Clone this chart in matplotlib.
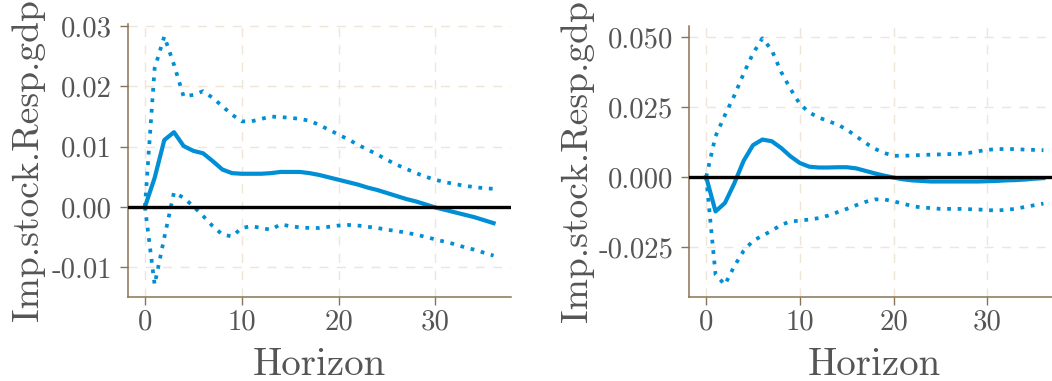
import matplotlib
matplotlib.use("Agg")
import matplotlib.pyplot as plt
from matplotlib.ticker import FixedLocator, FixedFormatter

plt.rcParams['font.family'] = ['cmr10', 'DejaVu Serif']
plt.rcParams['axes.unicode_minus'] = False

horizon = list(range(0, 37))

# Left panel
left_irf = [0.0, 0.0048, 0.0111, 0.0124, 0.0101, 0.0093, 0.0089, 0.0076, 0.0062, 0.0056,
            0.0055, 0.0055, 0.0055, 0.0056, 0.0058, 0.0058, 0.0058, 0.0056, 0.0053, 0.0049,
            0.0045, 0.0041, 0.0037, 0.0032, 0.0028, 0.0023, 0.0018, 0.0013, 0.0009, 0.0004,
            -0.0001, -0.0005, -0.0009, -0.0013, -0.0017, -0.0022, -0.0027]
left_upper = [0.0, 0.0230, 0.0283, 0.0236, 0.0183, 0.0186, 0.0192, 0.0181, 0.0167, 0.0153,
              0.0142, 0.0142, 0.0146, 0.0150, 0.0149, 0.0148, 0.0146, 0.0143, 0.0136, 0.0128,
              0.0120, 0.0112, 0.0103, 0.0095, 0.0087, 0.0078, 0.0070, 0.0063, 0.0056, 0.0050,
              0.0045, 0.0041, 0.0038, 0.0035, 0.0033, 0.0031, 0.0030]
left_lower = [0.0, -0.0129, -0.0051, 0.0024, 0.0015, 0.0001, -0.0015, -0.0032, -0.0046, -0.0049,
              -0.0035, -0.0032, -0.0035, -0.0038, -0.0029, -0.0032, -0.0034, -0.0035, -0.0035, -0.0033,
              -0.0031, -0.0030, -0.0031, -0.0033, -0.0035, -0.0038, -0.0040, -0.0043, -0.0046, -0.0050,
              -0.0054, -0.0058, -0.0062, -0.0067, -0.0071, -0.0076, -0.0081]

# Right panel
right_irf = [0.0, -0.0123, -0.0093, -0.0023, 0.0058, 0.0114, 0.0134, 0.0128, 0.0104, 0.0074,
             0.0050, 0.0037, 0.0034, 0.0034, 0.0035, 0.0035, 0.0031, 0.0022, 0.0013, 0.0005,
             -0.0002, -0.0008, -0.0012, -0.0014, -0.0016, -0.0016, -0.0016, -0.0016, -0.0016, -0.0016,
             -0.0015, -0.0014, -0.0012, -0.0011, -0.0009, -0.0006, -0.0004]
right_upper = [0.0, 0.0146, 0.0221, 0.0291, 0.0370, 0.0442, 0.0496, 0.0454, 0.0376, 0.0315,
               0.0261, 0.0231, 0.0213, 0.0200, 0.0188, 0.0170, 0.0146, 0.0122, 0.0101, 0.0086,
               0.0076, 0.0076, 0.0077, 0.0079, 0.0080, 0.0081, 0.0082, 0.0083, 0.0086, 0.0092,
               0.0097, 0.0100, 0.0100, 0.0100, 0.0098, 0.0097, 0.0096]
right_lower = [0.0, -0.0349, -0.0385, -0.0319, -0.0264, -0.0228, -0.0210, -0.0192, -0.0171, -0.0159,
               -0.0156, -0.0152, -0.0147, -0.0138, -0.0126, -0.0114, -0.0101, -0.0089, -0.0080, -0.0080,
               -0.0087, -0.0095, -0.0104, -0.0109, -0.0111, -0.0114, -0.0114, -0.0114, -0.0115, -0.0116,
               -0.0118, -0.0120, -0.0117, -0.0114, -0.0107, -0.0101, -0.0095]

x_ticks = [0, 10, 20, 30]
x_tick_labels = ["0", "10", "20", "30"]
left_y_ticks = [-0.01, 0.0, 0.01, 0.02, 0.03]
left_y_labels = ["-0.01", "0.00", "0.01", "0.02", "0.03"]
right_y_ticks = [-0.025, 0.0, 0.025, 0.05]
right_y_labels = ["-0.025", "0.000", "0.025", "0.050"]

ylabel_text = "Imp.stock.Resp.gdp"
xlabel_text = "Horizon"

BLUE = "#008fd5"
SPINE = "#8b7355"
GRID = "#efe5d9"
TEXT = "#555555"

W, H = 1052, 381
fig = plt.figure(figsize=(W / 100, H / 100), dpi=100)

ax1 = fig.add_axes([127.5 / W, 84 / H, 383.5 / W, 273 / H])
ax2 = fig.add_axes([689.3 / W, 84 / H, 371 / W, 271 / H])

panels = [
    (ax1, left_irf, left_upper, left_lower, left_y_ticks, left_y_labels, -0.215),
    (ax2, right_irf, right_upper, right_lower, right_y_ticks, right_y_labels, -0.258),
]

for ax, irf, up, lo, yt, yl, ylx in panels:
    ax.plot(horizon, up, color=BLUE, lw=2.7, linestyle=(0, (1.0, 1.8)), dash_capstyle='butt')
    ax.plot(horizon, lo, color=BLUE, lw=2.7, linestyle=(0, (1.0, 1.8)), dash_capstyle='butt')
    ax.plot(horizon, irf, color=BLUE, lw=3.0, solid_joinstyle='round')
    ax.axhline(0, color='black', lw=2.4, zorder=3)
    ax.margins(x=0.05, y=0.05)

    ax.xaxis.set_major_locator(FixedLocator(x_ticks))
    ax.xaxis.set_major_formatter(FixedFormatter(x_tick_labels))
    ax.yaxis.set_major_locator(FixedLocator(yt))
    ax.yaxis.set_major_formatter(FixedFormatter(yl))

    ax.grid(True, color=GRID, lw=1.0, linestyle=(0, (6.5, 6.0)))
    ax.set_axisbelow(True)
    for s in ['top', 'right']:
        ax.spines[s].set_visible(False)
    for s in ['left', 'bottom']:
        ax.spines[s].set_color(SPINE)
        ax.spines[s].set_linewidth(1.1)
    ax.tick_params(axis='both', direction='out', length=5.8, width=1.0, color=SPINE,
                   labelsize=20.7, labelcolor=TEXT)
    ax.tick_params(axis='y', pad=5.5)
    ax.tick_params(axis='x', pad=3)
    ax.set_xlabel(xlabel_text, fontsize=28, color=TEXT, labelpad=8)
    ax.set_ylabel(ylabel_text, fontsize=27, color=TEXT)
    ax.yaxis.set_label_coords(ylx, 0.5)
    ax.set_facecolor('white')

fig.savefig("out.png", dpi=100)
